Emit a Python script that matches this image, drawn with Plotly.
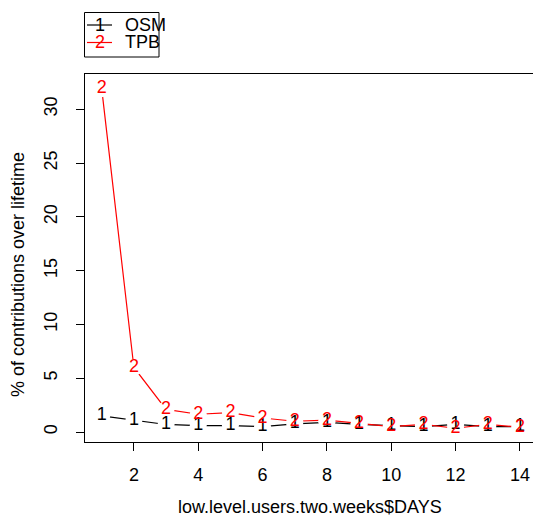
import plotly.graph_objects as go

days = list(range(1, 15))
osm = [1.5, 1.1, 0.7, 0.6, 0.6, 0.5, 0.75, 0.9, 0.7, 0.6, 0.5, 0.7, 0.5, 0.5]
tpb = [31.9, 6.0, 2.1, 1.65, 1.8, 1.3, 1.0, 1.1, 0.8, 0.5, 0.7, 0.35, 0.7, 0.45]
series_names = ["OSM", "TPB"]
series_symbols = ["1", "2"]
series_colors = ["black", "red"]
y_ticks = [0, 5, 10, 15, 20, 25, 30]
x_ticks = [2, 4, 6, 8, 10, 12, 14]

W, H = 533, 516
L, T, B, R = 85, 74, 74, 0
FONT = "Liberation Sans, Arial, Helvetica, sans-serif"
FS = 18

def px_x(p):
    return (p - L) / (W - L - R)

def px_y(p):
    return (H - B - p) / (H - T - B)

fig = go.Figure()
series = [osm, tpb]
for vals, col in zip(series, series_colors):
    fig.add_trace(go.Scatter(x=days, y=vals, mode="lines",
                             line=dict(color=col, width=1.2),
                             showlegend=False, hoverinfo="skip"))
for vals in series:
    fig.add_trace(go.Scatter(x=days, y=vals, mode="markers",
                             marker=dict(color="white", size=17, line=dict(width=0)),
                             showlegend=False, hoverinfo="skip"))
for vals, col, sym in zip(series, series_colors, series_symbols):
    fig.add_trace(go.Scatter(x=days, y=vals, mode="text",
                             text=[sym] * len(vals), textposition="middle center",
                             textfont=dict(color=col, size=FS, family=FONT),
                             showlegend=False, hoverinfo="skip"))

shapes = []
annotations = []
# legend box
shapes.append(dict(type="rect", xref="paper", yref="paper",
                   x0=px_x(84.5), x1=px_x(159), y0=px_y(57), y1=px_y(12.5),
                   line=dict(color="black", width=1), fillcolor="rgba(0,0,0,0)"))
for i, (name, sym, col) in enumerate(zip(series_names, series_symbols, series_colors)):
    yy = 25 + i * 17.5
    shapes.append(dict(type="line", xref="paper", yref="paper",
                       x0=px_x(87), x1=px_x(112), y0=px_y(yy), y1=px_y(yy),
                       line=dict(color=col, width=1.2)))
    annotations.append(dict(xref="paper", yref="paper", x=px_x(100), y=px_y(yy),
                            text=sym, showarrow=False, xanchor="center", yanchor="middle",
                            font=dict(color=col, size=FS, family=FONT)))
    annotations.append(dict(xref="paper", yref="paper", x=px_x(123), y=px_y(yy),
                            text=name, showarrow=False, xanchor="left", yanchor="middle",
                            font=dict(color="black", size=FS, family=FONT)))
# axis titles
annotations.append(dict(xref="paper", yref="paper", x=px_x(310), y=px_y(507),
                        text="low.level.users.two.weeks$DAYS", showarrow=False,
                        xanchor="center", yanchor="middle",
                        font=dict(color="black", size=FS, family=FONT)))
annotations.append(dict(xref="paper", yref="paper", x=px_x(18), y=px_y(275),
                        text="% of contributions over lifetime", showarrow=False,
                        textangle=-90, xanchor="center", yanchor="middle",
                        font=dict(color="black", size=FS, family=FONT)))

fig.update_layout(
    width=W, height=H,
    margin=dict(l=L, r=R, t=T, b=B),
    paper_bgcolor="white", plot_bgcolor="white",
    showlegend=False,
    shapes=shapes, annotations=annotations,
    font=dict(family=FONT, size=FS, color="black"),
    xaxis=dict(range=[0.48, 0.48 + (W - L - R) / 32.17], tickvals=x_ticks,
               showgrid=False, zeroline=False, showline=True, mirror=True,
               linecolor="black", linewidth=1, ticks="outside", ticklen=8,
               tickcolor="black", ticklabelstandoff=8,
               tickfont=dict(size=FS, family=FONT, color="black")),
    yaxis=dict(range=[-0.93, 33.28], tickvals=y_ticks,
               showgrid=False, zeroline=False, showline=True,
               linecolor="black", linewidth=1, ticks="outside", ticklen=8,
               tickcolor="black", tickangle=-90, ticklabelstandoff=12,
               tickfont=dict(size=FS, family=FONT, color="black")),
)

fig.write_html("out.html", config={"displayModeBar": False},
               post_script="document.body.style.margin='0';document.body.style.overflow='hidden';")
